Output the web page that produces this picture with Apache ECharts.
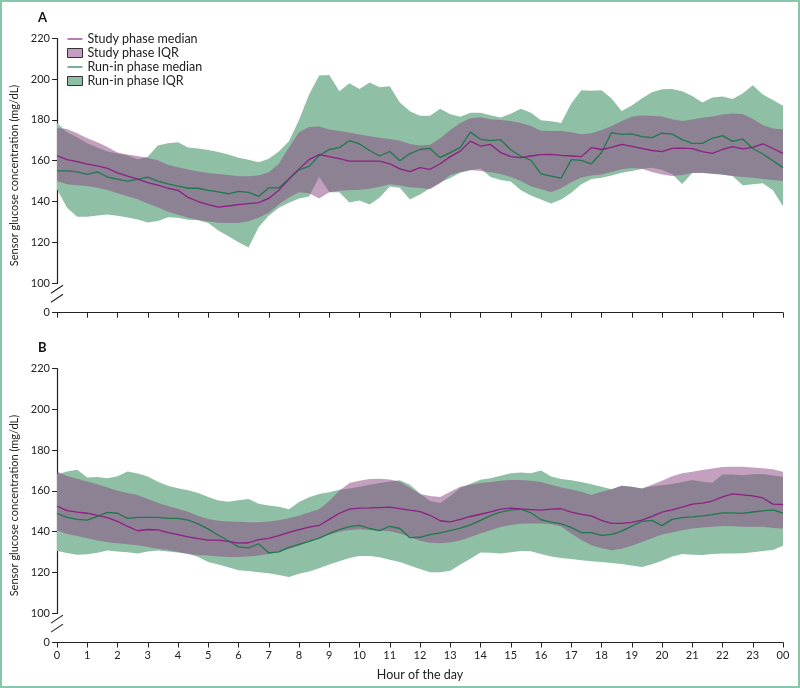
<!DOCTYPE html>
<html><head><meta charset="utf-8">
<script src="https://cdn.jsdelivr.net/npm/echarts@6.0.0/dist/echarts.min.js"></script>
<style>
html,body{margin:0;padding:0;background:#fff;}
#frame{position:absolute;left:0;top:0;width:800px;height:688px;box-sizing:border-box;border:2px solid #86c7ab;}
#chart{position:absolute;left:0;top:0;width:800px;height:688px;}
</style></head><body>
<div id="frame"></div><div id="chart"></div>
<script>
// ---- tick labels ----
const xTickLabels = ['0','1','2','3','4','5','6','7','8','9','10','11','12','13','14','15','16','17','18','19','20','21','22','23','00'];
const yTickValues = [0,100,120,140,160,180,200,220];

// ---- Panel A (values every 20 min, 0h..24h) ----
const studyMedianA = [162.5,160.5,159.5,158.3,157.5,156.3,154,152.5,151,149.3,148,146.5,145.5,142,140,138.5,137.2,137.8,138.5,139,139.5,141.5,145.5,151,156,160.5,163,162,161,159.8,159.8,159.8,159.8,158.5,156,154.6,156.6,155.8,158.5,162,164.7,169.6,167.2,168,164,162,161.5,162.3,163,163.1,162.6,162.3,162,166.4,165.5,166.5,168,167,166,165,164.5,166,166.2,165.9,164.5,163.6,165.5,166.9,165.8,166.5,168.3,166,163.6];
const runinMedianA = [155,155,154.5,153.3,154.5,152,151,150,150.8,152,150,148.6,147.5,146.5,146.5,145.5,144.7,143.8,145,144.5,142.5,146.7,146.7,151,155.5,157.2,162.5,165.5,166.4,169.8,168.2,165,162.3,164.5,160,163.5,165.5,166,161.5,164,166.5,174,170.5,169.8,170.3,165.4,162.2,160.3,153.6,152.4,151.5,160.5,160.2,158.5,164,173.8,172.9,173.2,171.8,171.3,173.5,173,170.3,168.5,168.5,171,172.3,169.5,170.6,166,163.3,160,156.6];
const studyUpperA = [176,175.5,173.5,171,169,166.7,164,163,162.3,161.3,160.2,158,156.8,155.7,154.7,154,153.5,153,152.4,152.4,152.8,154.3,158.5,166.5,174,176.5,176.8,175.3,174.6,173.8,172.8,172,171.3,170.7,169.8,168.2,167.5,167.8,171,175,178.5,180.8,181.3,180.3,180,179.5,178.5,177,174.7,174.6,174.6,174,173,173.5,175,177,179.5,181.5,182.2,182,181.7,180.3,179.5,180.2,181,181.7,182.7,183.2,182.9,180.5,177.5,175.8,175.4];
const studyLowerA = [150,148.5,148,147.6,146.8,145.7,144,142.6,141.1,139,137.2,135,133.5,132,131,130.2,129.6,129.5,129.5,130.3,132,134.5,138.5,142,144.5,144,141.5,144.5,145.3,145.5,145.8,146.2,147.2,148.4,147.8,147,146.6,146,149,153,154.5,155.5,155,154.3,153.5,152,150,147.5,146,144.5,146.5,149.5,151.8,152.8,153.2,154.5,155.8,156.4,156,154.5,153.3,152.5,153,154,154,153.5,153.2,152.5,152,151.6,151,150.5,150];
const runinUpperA = [178.5,174,171.5,168.5,166.5,164.5,163.5,162.5,160.7,162,167.5,168.5,169,166.5,166,165.3,164.3,163,161.5,160.5,159.3,161,164.5,169.5,180,192.5,201.8,202,194,198,195.2,198.3,196,196.5,188.5,184.2,182,182,185.5,182.8,181.5,183.5,183.5,182.3,181.2,183,185.5,183.5,179.8,179.4,178.5,188,194.5,194.3,194.5,190.5,184.4,187,190.5,193.5,195,195.1,194,191.7,188.5,191,191.5,190.2,193,197,192.5,189.8,186.9];
const runinLowerA = [146,137,132.5,132.5,133.2,133.6,133,132.2,131.2,129.7,130.5,132.3,132,131.1,130.8,129.5,125.8,123,120,117.5,127.5,133,137,139.4,141.5,142.5,152,144.5,144.5,139.5,140.5,138.5,142,147.4,146.7,141,143.4,146.5,149.3,151.5,154.1,155.3,156.2,152,150.5,149.8,145.5,143,141,139,141,144.3,148.4,151,151.6,152.8,154.1,155,155.9,156.6,155.5,153.5,148.6,154,154.1,153.7,153.1,152.5,148,148.5,149,145.5,137.7];

// ---- Panel B ----
const studyMedianB = [152.5,150.3,149.5,149,148,146.8,145,142.5,140.4,141,140.8,139.5,138.5,137.4,136.5,135.8,135.8,135.2,134.3,134.5,136,136.7,138,139.6,141,142.2,143,146,149,151,151.5,151.6,151.8,152,151.3,150.5,149.8,148,145.3,144.8,146,147.4,148.5,149.7,151,151.5,151.1,150.8,150.5,151,151.2,149.5,148.4,147.7,145.5,144,144,144.5,145.6,147.5,149.5,150.6,152,153.5,154,155,157,158.5,158,157.5,156.5,153.5,153.3];
const runinMedianB = [148.9,147,146,145.6,147.5,149.4,149,146.5,147,147,147,146.5,146.5,145.6,143.8,141.2,138.2,135.5,132.5,132,134,129.5,130,132.2,133.7,135.2,136.8,139,141,142.4,143,141.5,140.5,142.6,141.5,137,137.2,138.5,139.3,140.5,141.7,143.3,145.5,147.8,149.5,150.5,151,149.2,145.8,144.6,143.8,142,139.5,139.5,138.1,138.6,140.2,142.7,145,145.5,142.9,146,146.8,147.2,147.7,148.3,149.2,149.2,148.9,149.6,150.2,150.7,149];
const studyUpperB = [169.5,167.3,166,164.6,163.2,161.7,160,159,158,156,154.2,152.6,151.2,149.7,147.7,146.2,145.3,145,144.8,144.6,144.6,145,145.6,146.5,147.8,149.5,151,155,160,163.8,165,165.8,166,165.6,164.5,161.5,158.5,157.5,157,159.5,162,163,163.8,164.3,164.9,165.3,165.3,165,164.4,163,161.7,160.7,159.5,158,159.5,160.8,162.5,162,161.2,163,165,167.2,168.7,169.4,170.2,171,171.7,171.8,171.8,171.5,171.1,170.6,169.4];
const studyLowerB = [140.5,138.8,137.8,136.7,135.6,134.8,134.3,133.8,133.3,132.4,131.5,131,130,128.8,128.5,128.2,127.7,127.5,127.5,127.8,128.2,129,130.2,131.4,133,135,137,138.5,139.9,140.8,141.1,140.8,140.5,140.1,139,137.5,135.5,134.5,134.2,134.8,135.6,137.3,139,140.6,142.2,143.2,143.8,144,144,143.6,142.5,139,135.8,133.3,131.8,130.8,131.5,133,134.9,136.7,138.5,139.5,140.6,141.5,142,142.4,142.7,142.6,142.3,142.3,142.3,141.8,141.5];
const runinUpperB = [168,169.5,170.3,166.5,166.8,166.2,167.2,169.5,168.5,167,164.5,162.5,161.3,160.3,159,157,155.2,154.6,155.4,156,153.6,152.8,152.2,151,154.5,156.8,158.4,159.3,160.5,161.2,162,163,163.8,164.6,165.2,163,158.7,155,154,157.5,161.5,163.5,165.5,166.2,167.4,168.6,169,168.6,170,167,165.8,165.2,164.4,163.2,162,160.8,162.5,162,161.2,162.2,162.8,163.3,164.3,165.3,164.5,164,168,168,167.6,168.2,168.3,167.5,166.9];
const runinLowerB = [130.5,129.5,128.6,128.8,129.6,130.7,130.2,129.8,129.2,130.2,130.7,130.2,129.7,129.2,127.5,125.1,123.8,122.5,121,120.6,120,119.5,118.7,117.7,119.3,120.4,122,123.8,125.4,127,128,128,127.4,126.1,125,123.3,121.6,120,120,120.7,123.8,126.6,129.7,129.6,129.2,129.8,130.4,130.3,129,127.8,127,126.5,125.9,125.4,125,124.6,124.1,123.3,122.6,124,125.6,127.8,129,128.6,128.5,129,129.2,129.2,129.3,129.8,130.4,130.9,133];

const sampleHours = studyMedianA.map((_, i) => i / 3);
const GREEN_FILL = '#8fbfa5', PINK_FILL = 'rgba(140,75,130,0.52)';
const PINK_SWATCH = '#c49dc4';
const GREEN_LINE = '#1d7a4d', PURPLE_LINE = '#8e1f83';
const FONT = "Lato,'Liberation Sans Narrow','Roboto',sans-serif";
const LINE_ICON = 'path://M0,0 L30,0 L30,2.4 L0,2.4 Z';

function pairs(vals) { return vals.map((v, i) => [sampleHours[i], v]); }

function bandSeries(idx, name, lower, upper, color, z) {
  return {
    type: 'custom', name: name, xAxisIndex: idx, yAxisIndex: idx, z: z, silent: true, animation: false,
    itemStyle: { color: color },
    data: sampleHours.map((h, i) => [h, lower[i], upper[i]]),
    encode: { x: 0, y: [1, 2] },
    renderItem: function (params, api) {
      if (params.dataIndex !== 0) return null;
      const pts = [];
      for (let i = 0; i < upper.length; i++) pts.push(api.coord([sampleHours[i], upper[i]]));
      for (let i = lower.length - 1; i >= 0; i--) pts.push(api.coord([sampleHours[i], lower[i]]));
      return { type: 'polygon', shape: { points: pts }, style: { fill: color } };
    }
  };
}
function lineSeries(idx, name, vals, color, z) {
  return {
    type: 'line', name: name, xAxisIndex: idx, yAxisIndex: idx, symbol: 'none', showSymbol: false,
    animation: false, data: pairs(vals), lineStyle: { color: color, width: 1.3 }, itemStyle: { color: color }, z: z
  };
}
function panelSeries(idx, d) {
  return [
    bandSeries(idx, 'Run-in phase IQR', d.runinLower, d.runinUpper, GREEN_FILL, 1),
    bandSeries(idx, 'Study phase IQR', d.studyLower, d.studyUpper, PINK_FILL, 2),
    lineSeries(idx, 'Run-in phase median', d.runinMedian, GREEN_LINE, 3),
    lineSeries(idx, 'Study phase median', d.studyMedian, PURPLE_LINE, 4)
  ];
}

function xAxisDef(gi, showLabels) {
  return {
    type: 'value', gridIndex: gi, min: 0, max: 24, interval: 1,
    axisLine: { onZero: false, lineStyle: { color: '#222', width: 1.2 } },
    axisTick: { show: true, length: 5, lineStyle: { color: '#222', width: 1 } },
    axisLabel: { show: showLabels, color: '#222', fontSize: 11, margin: 7, fontFamily: FONT, formatter: v => xTickLabels[Math.round(v)] },
    splitLine: { show: false },
    name: showLabels ? 'Hour of the day' : '', nameLocation: 'middle', nameGap: 26,
    nameTextStyle: { color: '#222', fontSize: 12.5, fontFamily: FONT }
  };
}
function yAxisDef(gi) {
  return {
    type: 'value', gridIndex: gi, min: yTickValues[0], max: yTickValues[yTickValues.length - 1], interval: 20,
    breaks: [{ start: yTickValues[0], end: yTickValues[1], gap: 14.5 }],
    breakArea: { show: false },
    axisLine: { show: true, lineStyle: { color: '#222', width: 1.2 } },
    axisTick: { show: true, length: 5, lineStyle: { color: '#222', width: 1 } },
    axisLabel: { color: '#222', fontSize: 11, margin: 7, fontFamily: FONT },
    splitLine: { show: false },
    name: 'Sensor glucose concentration (mg/dL)', nameLocation: 'middle', nameGap: 33,
    nameTextStyle: { color: '#222', fontSize: 11, fontFamily: FONT }
  };
}

const chart = echarts.init(document.getElementById('chart'), null, { renderer: 'canvas' });
const option = {
  animation: false,
  textStyle: { fontFamily: FONT },
  title: [
    { text: 'A', left: 38, top: 11, padding: 0, textStyle: { fontSize: 13, fontWeight: 'bold', color: '#111', fontFamily: FONT } },
    { text: 'B', left: 38, top: 341, padding: 0, textStyle: { fontSize: 13, fontWeight: 'bold', color: '#111', fontFamily: FONT } }
  ],
  legend: {
    orient: 'vertical', left: 67, top: 32, itemWidth: 15, itemHeight: 9, itemGap: 0, padding: 0,
    selectedMode: false,
    textStyle: { fontSize: 12.5, lineHeight: 14, color: '#222', fontFamily: FONT },
    data: [
      { name: 'Study phase median', icon: LINE_ICON, itemStyle: { color: PURPLE_LINE } },
      { name: 'Study phase IQR', icon: 'rect', itemStyle: { color: PINK_SWATCH, borderColor: '#333', borderWidth: 1 } },
      { name: 'Run-in phase median', icon: LINE_ICON, itemStyle: { color: GREEN_LINE } },
      { name: 'Run-in phase IQR', icon: 'rect', itemStyle: { color: GREEN_FILL, borderColor: '#333', borderWidth: 1 } }
    ]
  },
  grid: [
    { left: 57, right: 17, top: 38.3, bottom: 375.3 },
    { left: 57, right: 17, top: 368.7, bottom: 45.5 }
  ],
  xAxis: [xAxisDef(0, false), xAxisDef(1, true)],
  yAxis: [yAxisDef(0), yAxisDef(1)],
  series: [].concat(
    panelSeries(0, { studyMedian: studyMedianA, runinMedian: runinMedianA, studyUpper: studyUpperA, studyLower: studyLowerA, runinUpper: runinUpperA, runinLower: runinLowerA }),
    panelSeries(1, { studyMedian: studyMedianB, runinMedian: runinMedianB, studyUpper: studyUpperB, studyLower: studyLowerB, runinUpper: runinUpperB, runinLower: runinLowerB })
  )
};
chart.setOption(option);

// axis-break marks on the y axes
const g = [];
[0, 1].forEach(i => {
  const p100 = chart.convertToPixel({ gridIndex: i }, [0, yTickValues[1]]);
  const p0 = chart.convertToPixel({ gridIndex: i }, [0, yTickValues[0]]);
  const x = p0[0];
  const c = p100[1] + (p0[1] - p100[1]) * 0.36;
  g.push({ type: 'rect', shape: { x: x - 3, y: c - 6.5, width: 6, height: 13 }, style: { fill: '#fff' }, z: 100 });
  g.push({ type: 'line', shape: { x1: x - 6, y1: c - 0.5, x2: x + 6, y2: c - 8.5 }, style: { stroke: '#222', lineWidth: 1.1 }, z: 101 });
  g.push({ type: 'line', shape: { x1: x - 6, y1: c + 8.5, x2: x + 6, y2: c + 0.5 }, style: { stroke: '#222', lineWidth: 1.1 }, z: 101 });
});
chart.setOption({ graphic: g });
</script>
</body></html>
